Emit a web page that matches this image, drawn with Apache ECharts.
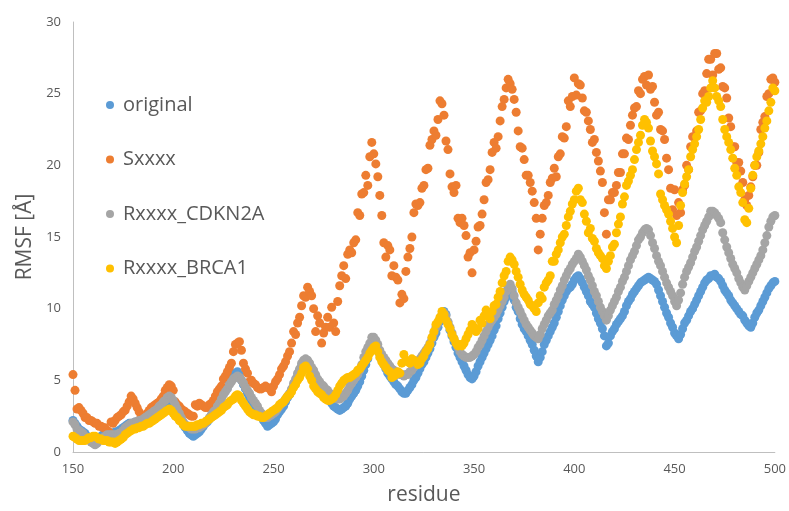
<!DOCTYPE html>
<html>
<head>
<meta charset="utf-8">
<script src="https://cdn.jsdelivr.net/npm/echarts@6/dist/echarts.min.js"></script>
<style>
  html, body { margin: 0; padding: 0; background: #ffffff; }
  #chart { width: 789px; height: 511px; }
</style>
</head>
<body>
<div id="chart"></div>
<script>
// Residue range covered by every series (one value per residue)
const firstResidue = 150;
const lastResidue = 500;

const seriesNames = ['original', 'Sxxxx', 'Rxxxx_CDKN2A', 'Rxxxx_BRCA1'];
const seriesColors = ['#5B9BD5', '#ED7D31', '#A5A5A5', '#FFC000'];

const xTicks = [150, 200, 250, 300, 350, 400, 450, 500];
const yTicks = [0, 5, 10, 15, 20, 25, 30];

// RMSF per residue, rows of ten residues starting at 150
const rmsfOriginal = [
  2.2, 2.0, 1.8, 1.6, 1.5, 1.4, 1.3, 1.1, 1.0, 0.9,   // 150
  0.8, 0.8, 0.9, 1.0, 1.1, 1.2, 1.2, 1.3, 1.3, 1.3,   // 160
  1.3, 1.4, 1.4, 1.5, 1.6, 1.7, 1.8, 1.9, 2.0, 2.0,   // 170
  2.0, 2.1, 2.1, 2.1, 2.2, 2.2, 2.3, 2.4, 2.6, 2.7,   // 180
  2.8, 2.9, 3.0, 3.2, 3.3, 3.4, 3.5, 3.6, 3.6, 3.5,   // 190
  3.3, 3.1, 2.8, 2.6, 2.2, 1.9, 1.7, 1.5, 1.3, 1.2,   // 200
  1.1, 1.2, 1.3, 1.4, 1.6, 1.8, 2.0, 2.1, 2.3, 2.5,   // 210
  2.7, 2.9, 3.2, 3.5, 3.8, 4.1, 4.3, 4.5, 4.9, 5.2,   // 220
  5.4, 5.5, 5.6, 5.4, 5.0, 4.7, 4.4, 4.1, 3.8, 3.6,   // 230
  3.4, 3.2, 2.9, 2.7, 2.5, 2.2, 2.0, 1.8, 1.9, 2.0,   // 240
  2.1, 2.3, 2.6, 2.8, 3.0, 3.2, 3.5, 3.8, 4.0, 4.3,   // 250
  4.6, 4.9, 5.3, 5.7, 6.0, 6.2, 6.3, 6.2, 6.0, 5.8,   // 260
  5.5, 5.2, 4.9, 4.6, 4.4, 4.2, 4.0, 3.8, 3.6, 3.4,   // 270
  3.2, 3.1, 3.0, 2.9, 3.0, 3.1, 3.2, 3.4, 3.7, 3.9,   // 280
  4.1, 4.3, 4.6, 4.9, 5.3, 5.7, 6.1, 6.5, 7.0, 7.3,   // 290
  7.6, 7.5, 7.2, 6.8, 6.4, 6.1, 5.8, 5.5, 5.3, 5.1,   // 300
  4.9, 4.7, 4.6, 4.4, 4.2, 4.1, 4.1, 4.3, 4.5, 4.7,   // 310
  5.0, 5.2, 5.5, 5.8, 6.1, 6.3, 6.6, 6.9, 7.2, 7.6,   // 320
  8.0, 8.3, 8.7, 9.1, 9.5, 9.8, 9.6, 9.0, 8.5, 8.1,   // 330
  7.7, 7.3, 6.9, 6.6, 6.3, 6.0, 5.7, 5.4, 5.2, 5.1,   // 340
  5.3, 5.6, 6.0, 6.3, 6.6, 6.9, 7.2, 7.5, 7.8, 8.1,   // 350
  8.5, 8.8, 9.3, 9.7, 10.1, 10.5, 10.8, 11.1, 11.3, 11.2,   // 360
  10.6, 10.1, 9.8, 9.3, 8.9, 8.6, 8.4, 8.1, 7.8, 7.5,   // 370
  7.1, 6.7, 6.3, 6.6, 7.0, 7.5, 7.8, 8.1, 8.4, 8.7,   // 380
  9.0, 9.4, 9.8, 10.2, 10.6, 10.9, 11.2, 11.4, 11.5, 11.7,   // 390
  12.0, 12.2, 12.3, 12.1, 11.8, 11.5, 11.2, 10.9, 10.5, 10.3,   // 400
  10.1, 9.7, 9.3, 9.0, 8.6, 8.1, 7.4, 7.6, 8.1, 8.4,   // 410
  8.6, 8.9, 9.1, 9.3, 9.5, 9.8, 10.2, 10.5, 10.7, 11.0,   // 420
  11.2, 11.4, 11.6, 11.8, 11.9, 12.0, 12.1, 12.2, 12.1, 12.0,   // 430
  11.9, 11.7, 11.3, 10.9, 10.5, 10.1, 9.7, 9.4, 9.0, 8.7,   // 440
  8.3, 8.1, 7.9, 8.2, 8.6, 9.0, 9.2, 9.5, 9.8, 10.0,   // 450
  10.3, 10.6, 10.9, 11.2, 11.5, 11.8, 12.0, 12.1, 12.3, 12.3,   // 460
  12.4, 12.2, 12.1, 11.9, 11.6, 11.3, 11.1, 10.9, 10.6, 10.4,   // 470
  10.2, 10.0, 9.8, 9.6, 9.5, 9.2, 9.0, 8.8, 8.7, 9.0,   // 480
  9.4, 9.7, 9.9, 10.2, 10.5, 10.8, 11.1, 11.4, 11.6, 11.8,   // 490
  11.9                                                // 500
];

const rmsfS = [
  5.4, 4.3, 3.0, 3.1, 2.9, 2.7, 2.4, 2.4, 2.2, 2.2,   // 150
  2.1, 2.0, 2.0, 1.8, 1.8, 1.7, 1.7, 1.5, 1.4, 2.1,   // 160
  2.0, 2.2, 2.4, 2.5, 2.6, 2.8, 2.9, 3.2, 3.5, 3.9,   // 170
  3.7, 3.4, 3.1, 2.8, 2.5, 2.4, 2.4, 2.7, 2.9, 3.1,   // 180
  3.2, 3.3, 3.4, 3.5, 3.7, 3.9, 4.3, 4.5, 4.7, 4.6,   // 190
  4.3, 3.5, 3.3, 3.2, 3.0, 2.9, 2.8, 2.7, 2.6, 2.5,   // 200
  2.5, 3.3, 3.2, 3.4, 3.3, 3.2, 3.1, 3.1, 3.3, 3.4,   // 210
  3.6, 3.9, 4.2, 4.4, 4.6, 5.1, 5.3, 5.6, 5.9, 6.2,   // 220
  7.0, 7.5, 7.6, 7.7, 7.1, 6.2, 5.8, 5.5, 4.9, 5.0,   // 230
  4.8, 4.7, 4.5, 4.4, 4.4, 4.5, 4.6, 4.5, 4.4, 4.2,   // 240
  4.6, 4.9, 5.1, 5.4, 5.8, 6.0, 6.3, 6.7, 7.0, 7.6,   // 250
  8.4, 8.2, 9.0, 9.4, 10.2, 10.9, 10.8, 11.5, 11.2, 10.9,   // 260
  10.0, 8.4, 9.5, 9.0, 7.6, 8.3, 8.7, 9.4, 8.7, 10.1,   // 270
  9.0, 8.4, 10.5, 11.6, 12.3, 13.0, 12.1, 13.8, 14.1, 13.9,   // 280
  14.6, 14.8, 16.7, 16.5, 18.0, 18.1, 19.3, 18.6, 20.6, 21.6,   // 290
  20.8, 20.1, 19.2, 17.9, 16.5, 14.6, 13.6, 14.4, 14.1, 12.3,   // 300
  13.0, 12.2, 12.0, 10.4, 11.0, 10.7, 12.6, 13.6, 14.2, 15.0,   // 310
  16.7, 17.3, 17.2, 17.4, 18.4, 18.6, 19.7, 19.8, 21.4, 21.8,   // 320
  22.4, 22.1, 23.2, 24.5, 24.3, 23.5, 21.7, 21.1, 19.4, 18.5,   // 330
  18.1, 18.6, 16.3, 16.0, 16.3, 15.8, 15.1, 13.6, 13.9, 12.5,   // 340
  14.1, 14.7, 15.7, 15.8, 16.6, 17.6, 18.8, 19.0, 19.7, 20.9,   // 350
  21.6, 21.2, 22.0, 23.1, 24.1, 24.6, 25.4, 26.0, 25.7, 25.3,   // 360
  24.6, 23.7, 22.4, 21.3, 21.2, 20.4, 19.3, 19.3, 18.8, 18.2,   // 370
  17.4, 16.3, 14.1, 15.2, 16.3, 17.2, 17.4, 17.9, 18.8, 19.1,   // 380
  19.8, 19.2, 20.6, 20.8, 22.0, 21.9, 22.7, 24.5, 24.1, 24.8,   // 390
  26.1, 24.9, 25.7, 25.6, 24.7, 23.8, 23.7, 23.1, 22.5, 21.6,   // 400
  21.8, 20.9, 20.3, 19.6, 18.8, 16.7, 15.2, 17.6, 17.6, 18.1,   // 410
  18.1, 18.6, 19.5, 19.5, 20.8, 20.8, 21.9, 21.8, 22.8, 23.5,   // 420
  24.0, 24.1, 25.2, 25.0, 26.0, 26.2, 25.6, 26.3, 25.3, 25.5,   // 430
  24.4, 23.5, 23.7, 22.5, 22.4, 21.8, 20.5, 19.7, 18.4, 16.9,   // 440
  18.3, 16.5, 17.4, 16.7, 18.3, 18.6, 20.0, 19.7, 21.3, 22.0,   // 450
  22.0, 22.4, 23.7, 23.8, 25.0, 25.2, 26.4, 27.4, 27.4, 26.3,   // 460
  27.8, 27.8, 26.7, 26.8, 25.5, 25.4, 24.7, 23.3, 22.7, 21.3,   // 470
  21.3, 20.2, 20.2, 19.6, 18.8, 17.6, 17.2, 17.9, 18.5, 19.2,   // 480
  20.0, 20.0, 20.9, 22.5, 23.0, 23.4, 24.8, 25.0, 26.0, 26.1,   // 490
  25.8                                                // 500
];

const rmsfCDKN2A = [
  2.1, 1.9, 1.6, 1.5, 1.4, 1.3, 1.1, 1.0, 0.9, 0.7,   // 150
  0.6, 0.5, 0.6, 0.8, 0.9, 1.0, 1.1, 1.2, 1.2, 1.2,   // 160
  1.2, 1.2, 1.2, 1.3, 1.3, 1.5, 1.7, 1.8, 1.9, 2.0,   // 170
  2.0, 2.1, 2.1, 2.2, 2.2, 2.3, 2.4, 2.5, 2.6, 2.7,   // 180
  2.8, 2.9, 3.0, 3.2, 3.3, 3.5, 3.6, 3.8, 3.9, 3.8,   // 190
  3.6, 3.3, 3.0, 2.7, 2.4, 2.1, 1.9, 1.8, 1.7, 1.6,   // 200
  1.6, 1.6, 1.7, 1.7, 1.8, 1.9, 2.0, 2.2, 2.4, 2.6,   // 210
  2.8, 2.9, 3.2, 3.4, 3.7, 4.0, 4.2, 4.4, 4.7, 4.9,   // 220
  5.1, 5.2, 5.3, 5.2, 5.0, 4.8, 4.5, 4.3, 4.1, 3.8,   // 230
  3.6, 3.4, 3.2, 2.9, 2.7, 2.5, 2.4, 2.4, 2.5, 2.6,   // 240
  2.7, 2.8, 3.0, 3.2, 3.4, 3.5, 3.7, 3.9, 4.1, 4.4,   // 250
  4.8, 5.1, 5.5, 5.8, 6.2, 6.4, 6.5, 6.4, 6.2, 5.9,   // 260
  5.7, 5.4, 5.1, 4.9, 4.7, 4.6, 4.4, 4.3, 4.1, 4.0,   // 270
  3.9, 3.8, 3.7, 3.7, 3.8, 3.9, 4.1, 4.3, 4.6, 4.8,   // 280
  5.0, 5.2, 5.4, 5.7, 6.1, 6.6, 7.0, 7.3, 7.6, 8.0,   // 290
  8.0, 7.8, 7.5, 7.1, 6.8, 6.6, 6.4, 6.2, 6.0, 5.8,   // 300
  5.7, 5.6, 5.5, 5.4, 5.4, 5.3, 5.4, 5.4, 5.6, 5.7,   // 310
  5.9, 6.1, 6.3, 6.5, 6.7, 6.9, 7.1, 7.3, 7.6, 7.9,   // 320
  8.3, 8.7, 9.0, 9.3, 9.6, 9.7, 9.5, 9.1, 8.7, 8.3,   // 330
  7.9, 7.6, 7.3, 7.0, 6.8, 6.7, 6.6, 6.6, 6.6, 6.7,   // 340
  6.8, 7.0, 7.3, 7.5, 7.8, 8.1, 8.4, 8.7, 9.0, 9.2,   // 350
  9.4, 9.6, 9.9, 10.2, 10.5, 10.8, 11.2, 11.5, 11.7, 11.4,   // 360
  10.9, 10.4, 10.1, 9.8, 9.5, 9.2, 8.9, 8.7, 8.5, 8.3,   // 370
  8.1, 8.0, 7.9, 8.2, 8.6, 8.9, 9.2, 9.5, 9.7, 9.9,   // 380
  10.3, 10.6, 10.9, 11.3, 11.6, 12.0, 12.3, 12.6, 12.8, 13.1,   // 390
  13.3, 13.5, 13.8, 13.6, 13.3, 13.0, 12.7, 12.3, 12.0, 11.6,   // 400
  11.2, 10.9, 10.5, 10.1, 9.8, 9.5, 9.2, 9.5, 9.9, 10.2,   // 410
  10.5, 10.8, 11.2, 11.5, 11.9, 12.2, 12.6, 13.0, 13.4, 13.7,   // 420
  14.0, 14.4, 14.8, 15.0, 15.3, 15.5, 15.6, 15.5, 15.1, 14.6,   // 430
  14.2, 13.7, 13.3, 13.0, 12.6, 12.2, 11.8, 11.5, 11.2, 10.9,   // 440
  10.5, 10.2, 10.6, 11.1, 11.7, 12.2, 12.6, 12.9, 13.2, 13.6,   // 450
  14.0, 14.3, 14.7, 15.1, 15.5, 15.8, 16.1, 16.4, 16.8, 16.8,   // 460
  16.7, 16.5, 16.3, 16.0, 15.3, 14.8, 14.3, 13.9, 13.5, 13.1,   // 470
  12.8, 12.5, 12.1, 11.8, 11.5, 11.3, 11.6, 11.9, 12.2, 12.5,   // 480
  12.8, 13.1, 13.4, 13.7, 14.1, 14.6, 15.1, 15.7, 16.1, 16.4,   // 490
  16.5                                                // 500
];

const rmsfBRCA1 = [
  1.1, 1.0, 0.9, 0.8, 0.8, 0.8, 0.8, 0.9, 1.0, 1.0,   // 150
  1.1, 1.1, 1.0, 0.9, 0.9, 0.8, 0.8, 0.8, 0.7, 0.7,   // 160
  0.7, 0.6, 0.7, 0.8, 0.9, 1.0, 1.2, 1.3, 1.4, 1.5,   // 170
  1.6, 1.6, 1.7, 1.7, 1.8, 1.8, 1.9, 2.0, 2.0, 2.1,   // 180
  2.2, 2.3, 2.4, 2.5, 2.6, 2.7, 2.8, 2.9, 3.0, 2.9,   // 190
  2.7, 2.5, 2.4, 2.2, 2.1, 1.9, 1.8, 1.8, 1.8, 1.8,   // 200
  1.8, 1.8, 1.9, 1.9, 2.0, 2.0, 2.1, 2.2, 2.3, 2.4,   // 210
  2.5, 2.6, 2.7, 2.8, 2.9, 3.1, 3.2, 3.3, 3.5, 3.6,   // 220
  3.7, 3.9, 4.0, 3.9, 3.6, 3.4, 3.2, 3.0, 2.8, 2.7,   // 230
  2.6, 2.6, 2.5, 2.5, 2.4, 2.4, 2.5, 2.6, 2.7, 2.8,   // 240
  2.9, 3.0, 3.1, 3.3, 3.4, 3.5, 3.7, 3.9, 4.0, 4.2,   // 250
  4.5, 4.7, 5.0, 5.2, 5.5, 5.9, 6.0, 5.8, 5.3, 5.0,   // 260
  4.6, 4.4, 4.2, 4.1, 4.0, 3.8, 3.7, 3.6, 3.6, 3.7,   // 270
  3.8, 4.0, 4.3, 4.6, 4.8, 5.0, 5.1, 5.2, 5.2, 5.3,   // 280
  5.4, 5.5, 5.7, 5.8, 6.0, 6.2, 6.4, 6.6, 6.9, 7.1,   // 290
  7.3, 7.4, 7.0, 6.6, 6.3, 6.1, 5.9, 5.7, 5.6, 5.2,   // 300
  5.3, 5.4, 5.6, 5.5, 6.2, 6.8, 6.4, 6.3, 6.2, 6.5,   // 310
  6.4, 6.3, 6.1, 6.2, 6.5, 6.7, 7.0, 7.2, 7.5, 8.0,   // 320
  8.4, 8.9, 9.1, 9.4, 9.8, 9.6, 9.2, 8.9, 8.6, 8.2,   // 330
  7.9, 7.6, 7.4, 7.5, 7.4, 7.6, 7.9, 8.2, 8.5, 8.9,   // 340
  8.7, 8.4, 8.6, 9.2, 9.0, 9.5, 9.9, 9.6, 9.3, 9.8,   // 350
  10.2, 10.3, 10.8, 11.2, 11.8, 12.3, 12.6, 13.3, 13.6, 13.4,   // 360
  13.1, 12.6, 12.2, 11.7, 11.3, 11.0, 10.8, 10.6, 10.3, 10.2,   // 370
  10.0, 9.8, 10.4, 10.9, 10.7, 11.5, 11.8, 12.0, 12.3, 13.3,   // 380
  13.3, 13.8, 14.1, 14.6, 15.0, 15.2, 15.8, 16.4, 16.8, 17.3,   // 390
  17.6, 18.2, 18.4, 17.6, 17.4, 16.6, 16.1, 15.3, 15.6, 14.9,   // 400
  14.7, 14.2, 13.9, 13.7, 13.5, 13.0, 12.8, 13.3, 13.7, 14.3,   // 410
  14.5, 15.3, 15.9, 16.4, 17.3, 17.8, 18.6, 18.9, 19.3, 19.7,   // 420
  20.4, 21.1, 21.6, 22.1, 22.8, 23.2, 23.0, 22.6, 21.7, 21.0,   // 430
  20.6, 20.1, 19.4, 18.0, 17.6, 17.2, 16.9, 16.6, 16.1, 15.6,   // 440
  15.0, 14.6, 15.8, 17.2, 18.1, 18.7, 19.2, 19.7, 20.6, 21.1,   // 450
  21.5, 22.0, 22.5, 23.2, 24.0, 24.5, 24.4, 24.8, 25.4, 25.9,   // 460
  25.4, 24.8, 24.5, 24.1, 23.2, 22.5, 22.0, 21.6, 21.1, 20.5,   // 470
  19.8, 19.3, 18.5, 18.1, 17.4, 16.2, 16.0, 17.0, 18.4, 19.3,   // 480
  20.0, 20.6, 21.0, 21.5, 22.0, 22.6, 23.1, 23.8, 24.4, 25.4,   // 490
  25.2                                                // 500
];

const seriesValues = [rmsfOriginal, rmsfS, rmsfCDKN2A, rmsfBRCA1];

function toPoints(values) {
  return values.map(function (v, i) { return [firstResidue + i, v]; });
}

const textColor = '#595959';
const axisLineColor = '#BFBFBF';
const fontFamily = '"Open Sans", "Noto Sans", sans-serif';

const chart = echarts.init(document.getElementById('chart'), null, { renderer: 'canvas' });

chart.setOption({
  backgroundColor: '#ffffff',
  animation: false,
  textStyle: { fontFamily: fontFamily },
  grid: { left: 73, right: 14, top: 22, bottom: 57, containLabel: false },
  legend: {
    data: seriesNames,
    orient: 'vertical',
    left: 101,
    top: 89,
    icon: 'circle',
    itemWidth: 16,
    itemHeight: 8,
    itemGap: 32.5,
    textStyle: { color: textColor, fontSize: 20, fontFamily: fontFamily, lineHeight: 22 }
  },
  xAxis: {
    type: 'value',
    min: xTicks[0],
    max: xTicks[xTicks.length - 1],
    interval: xTicks[1] - xTicks[0],
    name: 'residue',
    nameLocation: 'middle',
    nameGap: 33,
    nameTextStyle: { color: textColor, fontSize: 21, fontFamily: fontFamily },
    axisLine: { show: true, lineStyle: { color: axisLineColor, width: 1 } },
    axisTick: { show: false },
    splitLine: { show: false },
    axisLabel: { color: textColor, fontSize: 13, margin: 11, fontFamily: fontFamily }
  },
  yAxis: {
    type: 'value',
    min: yTicks[0],
    max: yTicks[yTicks.length - 1],
    interval: yTicks[1] - yTicks[0],
    name: 'RMSF [Å]',
    nameLocation: 'middle',
    nameGap: 29,
    nameTextStyle: { color: textColor, fontSize: 21, fontFamily: fontFamily },
    axisLine: { show: true, lineStyle: { color: axisLineColor, width: 1 } },
    axisTick: { show: false },
    splitLine: { show: false },
    axisLabel: { color: textColor, fontSize: 13, margin: 12, fontFamily: fontFamily }
  },
  series: seriesNames.map(function (name, k) {
    return {
      name: name,
      type: 'scatter',
      data: toPoints(seriesValues[k]),
      symbol: 'circle',
      symbolSize: 9,
      itemStyle: { color: seriesColors[k], opacity: 1 },
      z: 2 + k
    };
  })
});
</script>
</body>
</html>
